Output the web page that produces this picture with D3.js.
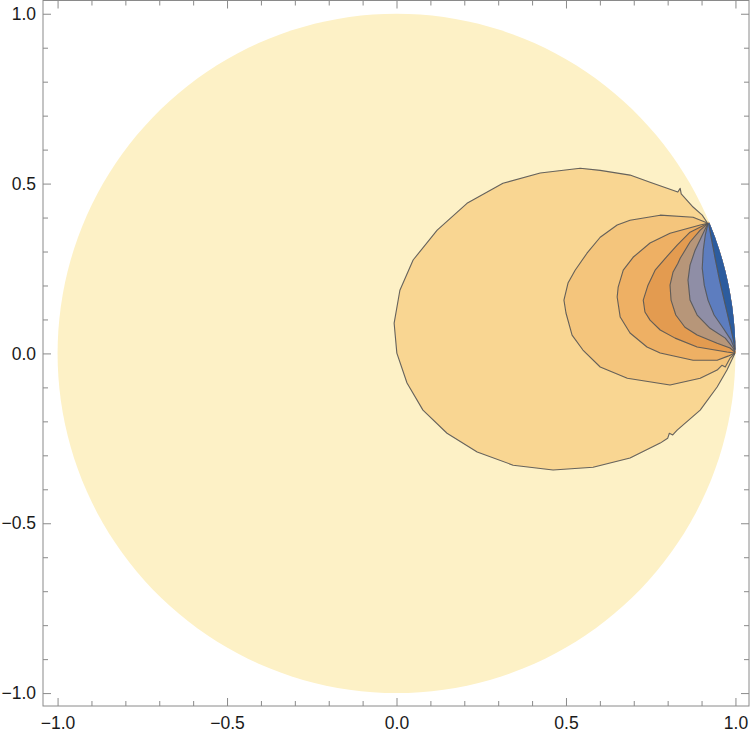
<!DOCTYPE html>
<html><head><meta charset="utf-8">
<script src="https://cdn.jsdelivr.net/npm/d3@7"></script>
<style>body{margin:0;background:#fff} svg{display:block}</style>
</head><body>
<svg id="chart" width="750" height="736"></svg>
<script>
// ---- tick values ----
const majorTicks = [-1.0, -0.5, 0.0, 0.5, 1.0];
const minorTicks = [-0.9, -0.8, -0.7, -0.6, -0.4, -0.3, -0.2, -0.1, 0.1, 0.2, 0.3, 0.4, 0.6, 0.7, 0.8, 0.9];

// ---- contour lines (data coords), each runs from top endpoint around to (1,0) ----
const contour1 = [[0.916,0.386],[0.902,0.407],[0.875,0.431],[0.840,0.470],[0.837,0.486],[0.830,0.475],[0.748,0.504],[0.689,0.525],[0.601,0.539],[0.542,0.545],[0.424,0.531],[0.314,0.501],[0.208,0.442],[0.120,0.363],[0.049,0.275],[0.010,0.186],[-0.007,0.089],[0.001,0.001],[0.031,-0.087],[0.078,-0.167],[0.149,-0.235],[0.238,-0.290],[0.344,-0.329],[0.462,-0.343],[0.580,-0.335],[0.689,-0.308],[0.778,-0.264],[0.800,-0.250],[0.805,-0.235],[0.815,-0.240],[0.828,-0.226],[0.896,-0.167],[0.946,-0.099],[0.975,-0.049],[0.993,-0.011],[0.999,0.001]];
const contour2 = [[0.919,0.383],[0.875,0.401],[0.778,0.407],[0.689,0.392],[0.651,0.378],[0.601,0.342],[0.562,0.295],[0.527,0.245],[0.506,0.207],[0.494,0.157],[0.500,0.119],[0.518,0.054],[0.550,0.010],[0.601,-0.040],[0.681,-0.073],[0.807,-0.093],[0.896,-0.073],[0.946,-0.049],[0.960,-0.035],[0.970,-0.040],[0.984,-0.014],[0.999,0.001]];
const contour3 = [[0.919,0.383],[0.896,0.378],[0.807,0.354],[0.748,0.325],[0.698,0.283],[0.669,0.245],[0.654,0.195],[0.651,0.166],[0.660,0.107],[0.689,0.060],[0.739,0.019],[0.778,0.001],[0.875,-0.020],[0.946,-0.020],[0.978,-0.008],[0.999,0.001]];
const contour4 = [[0.919,0.383],[0.866,0.357],[0.828,0.319],[0.793,0.280],[0.763,0.245],[0.742,0.201],[0.728,0.157],[0.733,0.122],[0.748,0.098],[0.778,0.069],[0.822,0.045],[0.887,0.019],[0.975,0.004],[0.999,0.001]];
const contour5 = [[0.919,0.383],[0.896,0.363],[0.866,0.328],[0.837,0.280],[0.830,0.265],[0.816,0.240],[0.807,0.201],[0.810,0.157],[0.824,0.113],[0.851,0.077],[0.887,0.054],[0.946,0.030],[0.984,0.016],[0.999,0.003]];
const contour6 = [[0.919,0.383],[0.902,0.348],[0.881,0.304],[0.866,0.260],[0.860,0.216],[0.866,0.157],[0.887,0.113],[0.925,0.074],[0.970,0.045],[0.993,0.016],[0.999,0.004]];
const contour7 = [[0.919,0.383],[0.911,0.348],[0.905,0.304],[0.902,0.251],[0.908,0.201],[0.919,0.157],[0.937,0.113],[0.964,0.074],[0.987,0.039],[0.999,0.010]];
const contour8 = [[0.921,0.382],[0.930,0.333],[0.940,0.280],[0.953,0.216],[0.968,0.151],[0.982,0.092],[0.994,0.039],[0.999,0.012]];

const contours = [contour1, contour2, contour3, contour4, contour5, contour6, contour7, contour8];
const backgroundColor = "#fdf1c6";
const levelColors = ["#f9d692", "#f4c57c", "#eeb064", "#e39b50", "#b79679", "#8f8ea6", "#5d7dbf", "#2c5c9e"];

// ---- scales ----
const pL = 43, pR = 749, pT = 0.5, pB = 706;
const x = d3.scaleLinear().domain([-1.043, 1.040]).range([pL, pR]);
const y = d3.scaleLinear().domain([-1.038, 1.039]).range([pB, pT]);

const svg = d3.select("#chart");

// disk outline
const diskAngles = d3.range(0, 360, 2);
const diskPts = diskAngles.map(a => [Math.cos(a*Math.PI/180), Math.sin(a*Math.PI/180)]);
const line = d3.line().x(d => x(d[0])).y(d => y(d[1]));
svg.append("defs").append("clipPath").attr("id","disk")
  .append("path").attr("d", line(diskPts) + "Z");

svg.append("path").attr("d", line(diskPts) + "Z").attr("fill", backgroundColor);

const g = svg.append("g").attr("clip-path","url(#disk)");

function arcBack(c) {
  const last = c[c.length-1], first = c[0];
  const a0 = Math.atan2(last[1], last[0]);
  const a1 = Math.atan2(first[1], first[0]);
  const n = 30, pts = [];
  for (let i = 0; i <= n; i++) {
    const a = a0 + (a1 - a0) * i / n;
    pts.push([1.01*Math.cos(a), 1.01*Math.sin(a)]);
  }
  return pts;
}

contours.forEach((c, i) => {
  g.append("path")
    .attr("d", line(c.concat(arcBack(c))) + "Z")
    .attr("fill", levelColors[i])
    .attr("stroke", levelColors[i]).attr("stroke-width", 0.3);
});
contours.forEach(c => {
  g.append("path")
    .attr("d", line(c))
    .attr("fill", "none")
    .attr("stroke", "#555")
    .attr("stroke-opacity", 0.9)
    .attr("stroke-width", 1.1)
    .attr("stroke-linejoin", "round");
});

// ---- frame & axes ----
const frameColor = "#8a8a8a";
const fmt = d3.format(".1f");
function styleAxis(sel) {
  sel.attr("font-family", "'Liberation Sans', Arial, sans-serif").attr("font-size", 17.5);
  sel.select(".domain").remove();
  sel.selectAll("line").attr("stroke", frameColor);
  sel.selectAll("text").attr("fill", "#1a1a1a");
}
// bottom
svg.append("g").attr("transform", `translate(0,${pB})`)
  .call(d3.axisBottom(x).tickValues(majorTicks).tickSize(-8).tickPadding(11).tickFormat(fmt)).call(styleAxis);
svg.append("g").attr("transform", `translate(0,${pB})`)
  .call(d3.axisBottom(x).tickValues(minorTicks).tickSize(-5).tickFormat("")).call(styleAxis);
// top
svg.append("g").attr("transform", `translate(0,${pT})`)
  .call(d3.axisTop(x).tickValues(majorTicks).tickSize(-8).tickFormat("")).call(styleAxis);
svg.append("g").attr("transform", `translate(0,${pT})`)
  .call(d3.axisTop(x).tickValues(minorTicks).tickSize(-5).tickFormat("")).call(styleAxis);
// left
svg.append("g").attr("transform", `translate(${pL},0)`)
  .call(d3.axisLeft(y).tickValues(majorTicks).tickSize(-8).tickPadding(7).tickFormat(fmt)).call(styleAxis);
svg.append("g").attr("transform", `translate(${pL},0)`)
  .call(d3.axisLeft(y).tickValues(minorTicks).tickSize(-5).tickFormat("")).call(styleAxis);
// right
svg.append("g").attr("transform", `translate(${pR},0)`)
  .call(d3.axisRight(y).tickValues(majorTicks).tickSize(-8).tickFormat("")).call(styleAxis);
svg.append("g").attr("transform", `translate(${pR},0)`)
  .call(d3.axisRight(y).tickValues(minorTicks).tickSize(-5).tickFormat("")).call(styleAxis);

svg.append("rect").attr("x", pL).attr("y", pT).attr("width", pR-pL).attr("height", pB-pT)
  .attr("fill","none").attr("stroke", frameColor).attr("stroke-width", 1);
</script>
</body></html>
